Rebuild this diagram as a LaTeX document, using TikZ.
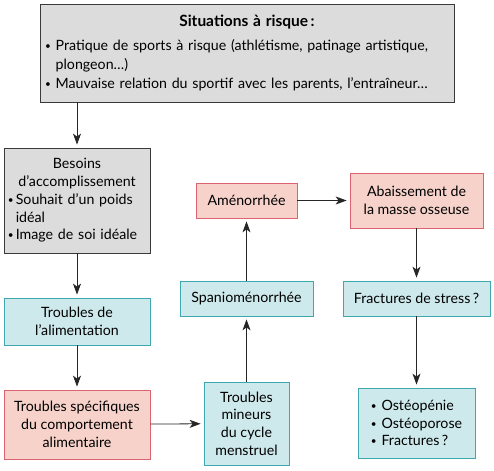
\documentclass[tikz,border=0pt]{standalone}
\usepackage{fontspec}
\setmainfont{Lato}
\usetikzlibrary{arrows.meta}
\definecolor{grayfill}{HTML}{DCDCDC}
\definecolor{grayline}{HTML}{3A3A3A}
\definecolor{cyanfill}{HTML}{CDE9EC}
\definecolor{cyanline}{HTML}{3FA7AE}
\definecolor{redfill}{HTML}{F6D2CA}
\definecolor{redline}{HTML}{DC6470}
\newcommand\smbul{\raisebox{0.12ex}{\fontsize{10}{10}\selectfont•}}
\newcommand\bitem[2][0.75em]{\par\hangindent=#1\hangafter=1\noindent\makebox[#1][l]{\smbul}#2}
\tikzset{
  box/.style={draw, line width=0.8pt, inner xsep=4pt, inner ysep=2pt,
    font=\fontsize{14.2}{17.7}\selectfont, align=center},
  greybox/.style={box, fill=grayfill, draw=grayline},
  cyanbox/.style={box, fill=cyanfill, draw=cyanline},
  redbox/.style={box, fill=redfill, draw=redline},
  arr/.style={-{Stealth[length=11pt,width=8pt,inset=3pt]}, line width=0.8pt,
    draw=black!85, shorten >=3pt},
}
\begin{document}
\begin{tikzpicture}[x=1pt,y=-1pt]
\useasboundingbox (0,0) rectangle (494,470);
\node[greybox, minimum width=414pt, minimum height=98pt, text width=404pt, align=left,
  font=\fontsize{14.2}{19}\selectfont] (risk) at (247,53)
  {\makebox[\linewidth]{\fontsize{15.5}{19}\selectfont\bfseries Situations à risque\,:}\par\vspace{5pt}%
   \bitem{Pratique de sports à risque (athlétisme, patinage artistique,\newline plongeon…)}%
   \bitem{Mauvaise relation du sportif avec les parents, l’entraîneur…}};
\node[greybox, minimum width=146pt, minimum height=105pt, text width=138pt, align=left] (besoins) at (77,200.5)
  {\makebox[\linewidth]{Besoins}\par\makebox[\linewidth]{d’accomplissement}%
   \bitem[0.55em]{Souhait d’un poids\newline idéal}%
   \bitem[0.55em]{Image de soi idéale}};
\node[cyanbox, minimum width=146pt, minimum height=47pt] (alim) at (77,321.5)
  {Troubles de\\l’alimentation};
\node[redbox, minimum width=146pt, minimum height=69pt] (spec) at (77,424.5)
  {Troubles spécifiques\\du comportement\\alimentaire};
\node[cyanbox, minimum width=85pt, minimum height=83pt] (mineurs) at (246.5,423.5)
  {Troubles\\mineurs\\du cycle\\menstruel};
\node[cyanbox, minimum width=133pt, minimum height=35pt] (spanio) at (246.5,298.5)
  {Spanioménorrhée};
\node[redbox, minimum width=101pt, minimum height=35pt] (amen) at (246.5,200.5)
  {Aménorrhée};
\node[redbox, minimum width=133pt, minimum height=55pt] (abais) at (416.5,200.5)
  {Abaissement de\\la masse osseuse};
\node[cyanbox, minimum width=147pt, minimum height=35pt] (fract) at (416.5,298.5)
  {Fractures de stress\,?};
\node[cyanbox, minimum width=117pt, minimum height=70pt, align=left] (bul) at (416.5,423)
  {\makebox[0.75em][l]{\smbul}Ostéopénie\\\makebox[0.75em][l]{\smbul}Ostéoporose\\\makebox[0.75em][l]{\smbul}Fractures\,?};
\draw[arr] (risk.south -| besoins.north) -- (besoins.north);
\draw[arr] (besoins) -- (alim);
\draw[arr] (alim) -- (spec);
\draw[arr] (spec) -- (mineurs);
\draw[arr] (mineurs) -- (spanio);
\draw[arr] (spanio) -- (amen);
\draw[arr] (amen) -- (abais);
\draw[arr] (abais) -- (fract);
\draw[arr] (fract) -- (bul);
\end{tikzpicture}
\end{document}
